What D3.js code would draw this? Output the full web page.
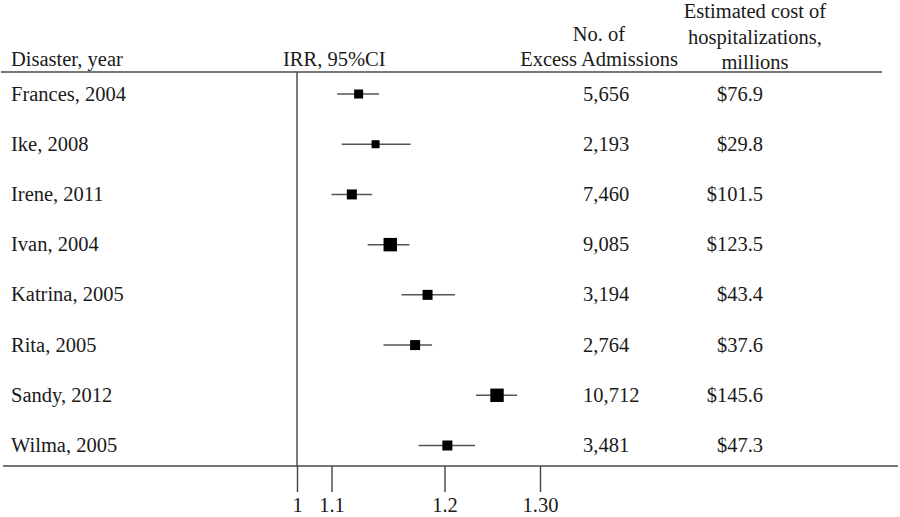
<!DOCTYPE html>
<html><head><meta charset="utf-8">
<script src="https://cdn.jsdelivr.net/npm/d3@7"></script>
<style>
body{margin:0;background:#fff}
svg{display:block}
text{font-family:"Liberation Serif","Times New Roman",serif;fill:#1a1a1a}
</style>
</head><body><svg id="c" width="900" height="517"></svg>
<script>
// ---- data ----
const disasters = ["Frances, 2004","Ike, 2008","Irene, 2011","Ivan, 2004","Katrina, 2005","Rita, 2005","Sandy, 2012","Wilma, 2005"];
const irr    = [1.124, 1.139, 1.118, 1.152, 1.185, 1.174, 1.255, 1.203];
const ciLow  = [1.105, 1.109, 1.100, 1.132, 1.162, 1.146, 1.233, 1.177];
const ciHigh = [1.142, 1.170, 1.136, 1.169, 1.211, 1.189, 1.276, 1.232];
const weights = [8.1, 6.4, 10, 18, 10, 10, 18, 10];
const excessAdmissions = ["5,656","2,193","7,460","9,085","3,194","2,764","10,712","3,481"];
const costs = ["$76.9","$29.8","$101.5","$123.5","$43.4","$37.6","$145.6","$47.3"];
const tickValues = [1, 1.1, 1.2, 1.3];
const tickLabels = ["1","1.1","1.2","1.30"];
const headers = {
  disaster: ["Disaster, year"],
  irr: ["IRR, 95%CI"],
  admissions: ["No. of","Excess Admissions"],
  cost: ["Estimated cost of","hospitalizations,","millions"]
};

// ---- layout ----
const svg = d3.select("#c");
const FS = 20.5;
const topLineY = 72, bottomLineY = 466;

const x = d3.scaleLinear().domain(tickValues).range([297, 331.5, 444.5, 540]);
const y = d3.scalePoint().domain(disasters).range([94, 445.5]);
const size = d3.scaleSqrt().domain([0, 10]).range([0, 10]);

const rows = disasters.map((d,i)=>({name:d, est:irr[i], lo:ciLow[i], hi:ciHigh[i], w:weights[i], adm:excessAdmissions[i], cost:costs[i]}));

// horizontal rules
svg.append("line").attr("x1",1).attr("x2",882).attr("y1",topLineY).attr("y2",topLineY)
  .attr("stroke","#4a4a4a").attr("stroke-width",1.6);
svg.append("line").attr("x1",3).attr("x2",898).attr("y1",bottomLineY).attr("y2",bottomLineY)
  .attr("stroke","#4a4a4a").attr("stroke-width",1.6);

// reference line at IRR = 1
svg.append("line").attr("x1",x(1)).attr("x2",x(1)).attr("y1",topLineY).attr("y2",bottomLineY)
  .attr("stroke","#444").attr("stroke-width",1.4);

// axis
const axis = d3.axisBottom(x).tickValues(tickValues)
  .tickFormat((d,i)=>tickLabels[i]).tickSize(26).tickPadding(5);
const ag = svg.append("g").attr("transform",`translate(0,${bottomLineY})`).call(axis);
ag.select(".domain").remove();
ag.selectAll(".tick line").attr("stroke","#444").attr("stroke-width",1.4);
ag.selectAll(".tick text").attr("font-size",FS+"px").attr("fill","#1a1a1a");

// headers
function headerLines(lines, xPos, baselines, anchor){
  lines.forEach((t,i)=>{
    svg.append("text").attr("x",xPos).attr("y",baselines[i]).attr("text-anchor",anchor)
      .attr("font-size",FS+"px").text(t);
  });
}
headerLines(headers.disaster, 11, [66], "start");
headerLines(headers.irr, 283, [66], "start");
headerLines(headers.admissions, 599, [41, 66], "middle");
headerLines(headers.cost, 755, [18, 44, 69], "middle");

// row labels and numbers
const g = svg.append("g");
g.selectAll("text.name").data(rows).join("text").attr("class","name")
  .attr("x",11).attr("y",d=>y(d.name)+6.5).attr("font-size",FS+"px").text(d=>d.name);
g.selectAll("text.adm").data(rows).join("text").attr("class","adm")
  .attr("x",583).attr("y",d=>y(d.name)+6.5).attr("font-size",FS+"px").text(d=>d.adm);
g.selectAll("text.cost").data(rows).join("text").attr("class","cost")
  .attr("x",763).attr("text-anchor","end").attr("y",d=>y(d.name)+6.5).attr("font-size",FS+"px").text(d=>d.cost);

// CI lines
g.selectAll("line.ci").data(rows).join("line").attr("class","ci")
  .attr("x1",d=>x(d.lo)).attr("x2",d=>x(d.hi))
  .attr("y1",d=>y(d.name)).attr("y2",d=>y(d.name))
  .attr("stroke","#555").attr("stroke-width",1.5);
// point estimates
g.selectAll("rect.pt").data(rows).join("rect").attr("class","pt")
  .attr("x",d=>x(d.est)-size(d.w)/2).attr("y",d=>y(d.name)-size(d.w)/2)
  .attr("width",d=>size(d.w)).attr("height",d=>size(d.w))
  .attr("fill","#000");
</script>
</body></html>
